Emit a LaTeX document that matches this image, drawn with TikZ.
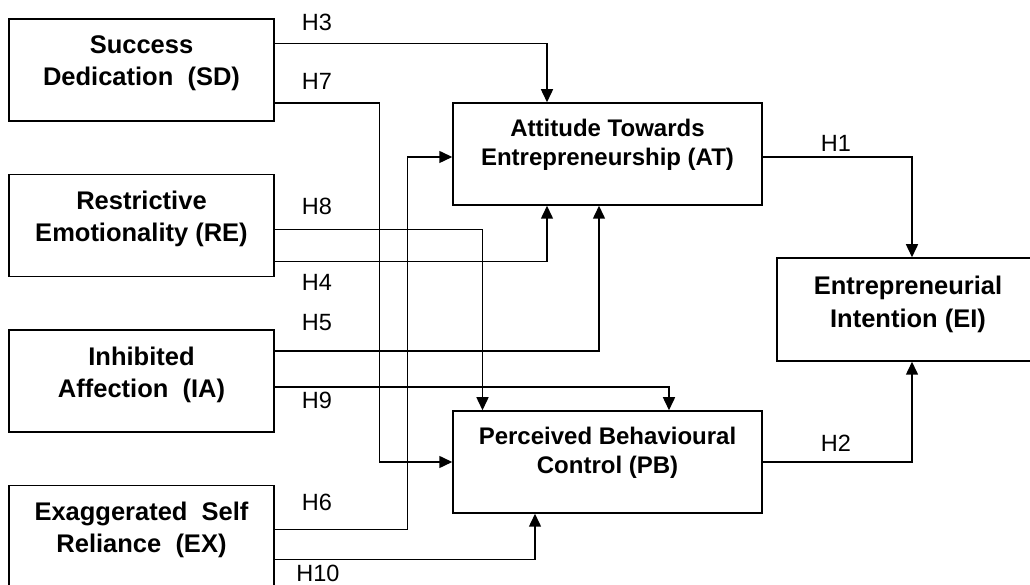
\documentclass[tikz,border=0pt]{standalone}
\usepackage{fontspec}
\setmainfont{Liberation Sans}
\usetikzlibrary{positioning}
\usetikzlibrary{arrows.meta}

\begin{document}
\begin{tikzpicture}[x=1pt,y=1pt,line width=1.5pt,
	>={Triangle[length=13pt,width=12pt]},
	construct/.style={draw,minimum width=265pt,minimum height=102pt,inner sep=0pt},
	mediator/.style={draw,minimum width=309pt,minimum height=102pt,inner sep=0pt},
	outcome/.style={draw,minimum width=270pt,minimum height=103pt,inner sep=0pt},
	boxtext/.style={align=center,inner sep=0pt,font=\fontsize{25.5}{32}\selectfont\bfseries},
	midtext/.style={align=center,inner sep=0pt,font=\fontsize{24}{29.5}\selectfont\bfseries},
	hyp/.style={inner sep=0pt,font=\fontsize{23.5}{28}\selectfont}]
	\clip (0,0) rectangle (1030,585);
	% constructs
	\node[construct] (SD) at (141.5,515) {};
	\node[construct, below=52pt of SD] (RE) {};
	\node[construct, below=52pt of RE] (IA) {};
	\node[construct, below=52pt of IA] (EX) {};
	\node[mediator] (AT) at (607.5,431) {};
	\node[mediator] (PB) at (607.5,123) {};
	\node[outcome] (EI) at (912,275.5) {};
	\node[boxtext, below=17pt of SD.north] (SDt) {Success\\Dedication\ \ (SD)};
	\node[boxtext, below=17pt of RE.north] (REt) {Restrictive\\Emotionality (RE)};
	\node[boxtext, below=17pt of IA.north] (IAt) {Inhibited\\Affection\ \ (IA)};
	\node[boxtext, below=17pt of EX.north] (EXt) {Exaggerated\ \ Self\\Reliance\ \ (EX)};
	\node[midtext, below=16pt of AT.north] (ATt) {Attitude Towards\\Entrepreneurship (AT)};
	\node[midtext, below=16pt of PB.north] (PBt) {Perceived Behavioural\\Control (PB)};
	\node[boxtext, below=18pt of EI.north, xshift=-4pt, font=\fontsize{25.5}{33}\selectfont\bfseries] (EIt) {Entrepreneurial\\Intention (EI)};
	% paths
	\draw[->] ([yshift=26.7pt]SD.east) -| ([xshift=-60.5pt]AT.north);
	\draw[->] ([yshift=-33pt]SD.east) -| ([xshift=-73pt]PB.west) -- (PB.west);
	\draw[->] ([yshift=-4pt]RE.east) -| ([xshift=-125pt]PB.north);
	\draw[->] ([yshift=-36pt]RE.east) -| ([xshift=-60.5pt]AT.south);
	\draw[->] ([yshift=30pt]IA.east) -| ([xshift=-8.5pt]AT.south);
	\draw[->] ([yshift=-6pt]IA.east) -| ([xshift=61.5pt]PB.north);
	\draw[->] ([yshift=7pt]EX.east) -| ([xshift=-45pt,yshift=-3pt]AT.west) -- ([yshift=-3pt]AT.west);
	\draw[->] ([yshift=-23pt]EX.east) -| ([xshift=-72.5pt]PB.south);
	\draw[->] ([yshift=-3pt]AT.east) -| (EI.north);
	\draw[->] (PB.east) -| (EI.south);
	% hypotheses
	\node[hyp] (H3) at (317,563) {H3};
	\node[hyp] (H7) at (317,504) {H7};
	\node[hyp] (H8) at (317,379) {H8};
	\node[hyp] (H4) at (317,303) {H4};
	\node[hyp] (H5) at (317,262) {H5};
	\node[hyp] (H9) at (317,185) {H9};
	\node[hyp] (H6) at (317,83) {H6};
	\node[hyp] (H10) at (318,12) {H10};
	\node[hyp] (H1) at (836,442) {H1};
	\node[hyp] (H2) at (836,142) {H2};
\end{tikzpicture}
\end{document}
